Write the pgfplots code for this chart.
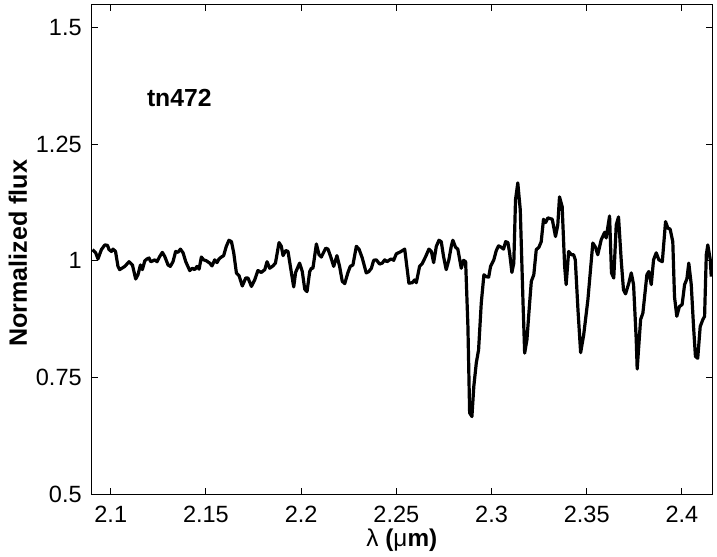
\documentclass[border=0pt]{standalone}
\usepackage{fontspec}
\setmainfont{Liberation Sans}
\usepackage{pgfplots}
\pgfplotsset{compat=1.18}

\pgfplotstableread{
x y
2.0904 1.024
2.0921 1.017
2.0933 1.004
2.0951 1.024
2.0969 1.034
2.0983 1.033
2.0991 1.024
2.1004 1.020
2.1012 1.025
2.1025 1.020
2.1038 0.988
2.1047 0.981
2.1074 0.988
2.1096 0.998
2.1114 0.991
2.1131 0.961
2.1143 0.970
2.1156 0.991
2.1166 0.981
2.1179 1.000
2.1191 1.004
2.1201 1.006
2.1210 0.998
2.1222 1.000
2.1231 1.002
2.1243 0.998
2.1257 1.009
2.1271 1.018
2.1284 1.009
2.1301 0.991
2.1313 0.988
2.1327 0.998
2.1341 1.020
2.1353 1.018
2.1366 1.025
2.1380 1.017
2.1394 0.998
2.1415 0.979
2.1429 0.984
2.1441 0.981
2.1453 0.988
2.1464 0.982
2.1476 1.008
2.1488 1.002
2.1502 1.000
2.1520 0.995
2.1532 0.989
2.1546 1.002
2.1558 0.996
2.1569 1.004
2.1581 1.008
2.1593 1.011
2.1607 1.031
2.1621 1.044
2.1634 1.041
2.1646 1.017
2.1660 0.974
2.1674 0.968
2.1691 0.946
2.1709 0.963
2.1721 0.963
2.1739 0.945
2.1756 0.959
2.1773 0.979
2.1791 0.975
2.1809 0.981
2.1821 0.998
2.1835 0.984
2.1852 0.989
2.1865 0.995
2.1884 1.039
2.1896 1.031
2.1905 1.011
2.1919 1.022
2.1931 1.020
2.1949 0.974
2.1961 0.944
2.1971 0.975
2.1992 0.995
2.2006 0.977
2.2019 0.939
2.2031 0.934
2.2045 0.977
2.2054 0.984
2.2062 0.984
2.2080 1.036
2.2094 1.013
2.2106 1.008
2.2129 1.027
2.2141 1.025
2.2155 1.009
2.2171 0.988
2.2188 1.011
2.2202 0.988
2.2216 0.956
2.2229 0.951
2.2246 0.975
2.2258 0.988
2.2272 0.991
2.2290 1.031
2.2304 1.025
2.2321 1.006
2.2342 0.974
2.2356 0.977
2.2369 0.984
2.2381 1.001
2.2395 1.002
2.2412 0.993
2.2426 0.995
2.2439 1.002
2.2451 0.998
2.2465 1.002
2.2474 1.004
2.2486 1.001
2.2500 1.015
2.2521 1.019
2.2544 1.025
2.2566 0.952
2.2584 0.953
2.2596 0.959
2.2605 0.953
2.2622 0.988
2.2636 0.994
2.2654 1.009
2.2671 1.025
2.2684 1.020
2.2696 0.996
2.2710 1.031
2.2724 1.044
2.2736 1.041
2.2748 1.009
2.2762 0.981
2.2776 1.002
2.2789 1.032
2.2797 1.044
2.2811 1.029
2.2823 1.025
2.2841 0.984
2.2853 1.001
2.2864 0.998
2.2876 0.859
2.2885 0.674
2.2897 0.666
2.2907 0.731
2.2920 0.781
2.2932 0.809
2.2946 0.909
2.2960 0.970
2.2972 0.966
2.2985 0.965
2.2995 0.988
2.3012 1.002
2.3025 1.022
2.3037 1.032
2.3051 1.029
2.3063 1.025
2.3074 1.041
2.3086 1.039
2.3095 1.017
2.3107 0.975
2.3117 0.995
2.3126 1.131
2.3138 1.167
2.3151 1.109
2.3165 0.916
2.3174 0.802
2.3186 0.831
2.3200 0.909
2.3209 0.956
2.3222 0.970
2.3235 1.024
2.3249 1.029
2.3261 1.041
2.3273 1.089
2.3284 1.082
2.3296 1.092
2.3319 1.089
2.3336 1.052
2.3348 1.077
2.3357 1.137
2.3371 1.116
2.3384 0.988
2.3392 0.949
2.3405 1.020
2.3419 1.013
2.3431 1.013
2.3440 1.002
2.3454 0.895
2.3468 0.803
2.3484 0.841
2.3506 0.916
2.3519 0.977
2.3532 1.038
2.3546 1.029
2.3558 1.013
2.3576 1.045
2.3594 1.061
2.3602 1.049
2.3620 1.096
2.3630 0.974
2.3642 0.963
2.3655 1.077
2.3667 1.094
2.3681 1.002
2.3693 0.938
2.3704 0.929
2.3721 0.952
2.3734 0.974
2.3746 0.949
2.3760 0.831
2.3765 0.768
2.3783 0.874
2.3795 0.888
2.3816 0.970
2.3826 0.977
2.3839 0.949
2.3851 1.002
2.3865 1.017
2.3879 1.002
2.3897 0.998
2.3914 1.084
2.3926 1.070
2.3938 1.068
2.3952 1.041
2.3961 0.923
2.3973 0.881
2.3987 0.902
2.4001 0.906
2.4014 0.949
2.4026 0.961
2.4036 0.995
2.4049 0.949
2.4061 0.859
2.4071 0.795
2.4083 0.791
2.4096 0.859
2.4110 0.874
2.4119 0.881
2.4128 1.013
2.4136 1.034
2.4149 1.002
2.4154 0.966
}\spectrum

\begin{document}
\begin{tikzpicture}
\useasboundingbox (0,0) rectangle (358.5bp,278.5bp);
\begin{axis}[
  at={(45.85bp,31.5bp)}, anchor=south west,
  width=310.15bp, height=244.65bp, scale only axis,
  xmin=2.09, xmax=2.4158,
  ymin=0.5, ymax=1.549,
  xtick={2.1,2.15,2.2,2.25,2.3,2.35,2.4},
  ytick={0.5,0.75,1,1.25,1.5},
  tick align=inside,
  major tick length=3bp,
  axis line style={line width=0.5bp},
  every tick/.style={black, line width=0.5bp},
  /pgf/number format/assume math mode=true,
  tick label style={font=\fontsize{11.8}{13}\selectfont},
  xticklabel style={anchor=north, yshift=-2.5bp},
  yticklabel style={anchor=east, xshift=-1.5bp},
  every axis x label/.style={at={(rel axis cs:0.5,0)}, yshift=-23bp, anchor=center},
  every axis y label/.style={at={(rel axis cs:0,0.5)}, xshift=-36.85bp, yshift=-2bp, rotate=90, anchor=center},
  xlabel={\fontsize{12.2}{14}\selectfont λ \textbf{(}μ\textbf{m)}},
  ylabel={\fontsize{12.6}{14}\selectfont\bfseries Normalized flux},
  clip=false,
]
\addplot[black, line width=1.6bp, line join=round] table[x=x, y=y] {\spectrum};
\node[font=\fontsize{12.4}{14}\selectfont\bfseries] at (axis cs:2.136,1.349) {tn472};
\end{axis}
\end{tikzpicture}
\end{document}
